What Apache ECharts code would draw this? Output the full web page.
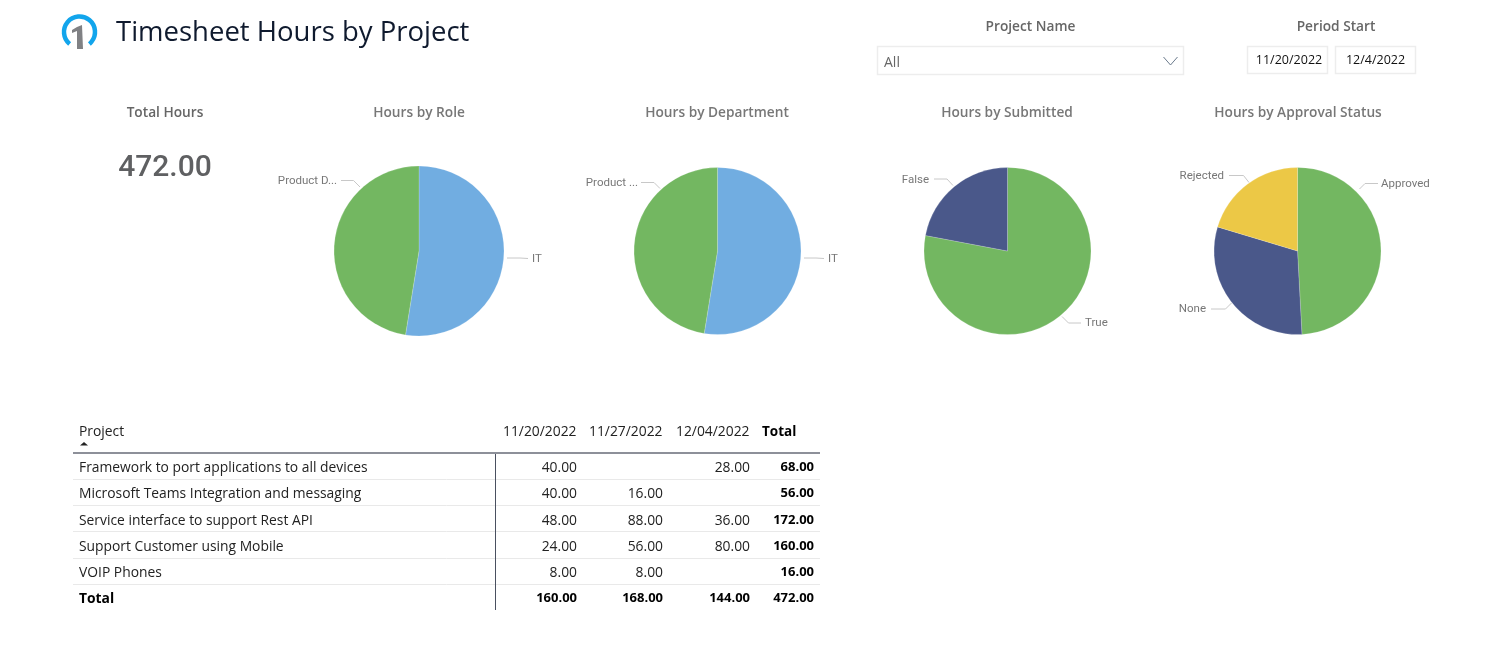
<!DOCTYPE html>
<html>
<head>
<meta charset="utf-8">
<title>Timesheet Hours by Project</title>
<script src="https://cdn.jsdelivr.net/npm/echarts@6/dist/echarts.min.js"></script>
<style>
html, body { margin: 0; padding: 0; background: #fff; }
#main { width: 1492px; height: 655px; }
</style>
</head>
<body>
<div id="main"></div>
<script>
// pie data
var roleNames = ['IT', 'Product D...'];
var roleHours = [248, 224];
var deptNames = ['IT', 'Product ...'];
var deptHours = [248, 224];
var submittedNames = ['True', 'False'];
var submittedHours = [368, 104];
var approvalNames = ['Approved', 'None', 'Rejected'];
var approvalHours = [232, 144, 96];

// table data
var weekLabels = ['11/20/2022', '11/27/2022', '12/04/2022'];
var projects = [
    'Framework to port applications to all devices',
    'Microsoft Teams Integration and messaging',
    'Service interface to support Rest API',
    'Support Customer using Mobile',
    'VOIP Phones'
];
var week1Hours = [40, 40, 48, 24, 8];
var week2Hours = [null, 16, 88, 56, 8];
var week3Hours = [28, null, 36, 80, null];
var projectTotals = [68, 56, 172, 160, 16];
var weekTotals = [160, 168, 144];
var grandTotal = 472;

var UI_FONT = '"Open Sans", "Noto Sans", sans-serif';
var LABEL_FONT = 'Roboto, sans-serif';
var BLUE = '#71ADE1', GREEN = '#73B761', NAVY = '#4A588A', YELLOW = '#ECC846';

// where Power BI put the outside labels: text anchor + leader line
var labelSpots = [
    [
        {x: 532, y: 259, align: 'left', line: [[507, 258], [520, 258], [528, 258.5]]},
        {x: 337, y: 181.5, align: 'right', line: [[360, 187], [353.5, 180.5], [341, 180.5]]}
    ],
    [
        {x: 828, y: 259, align: 'left', line: [[804, 258], [816, 258], [824, 258.5]]},
        {x: 638, y: 183, align: 'right', line: [[660, 188.5], [654, 182.5], [641, 182.5]]}
    ],
    [
        {x: 1085, y: 323, align: 'left', line: [[1062, 316.5], [1068.5, 323], [1081, 323]]},
        {x: 929, y: 180, align: 'right', line: [[953, 185.5], [947, 179], [934, 179]]}
    ],
    [
        {x: 1381, y: 184, align: 'left', line: [[1359.5, 189], [1365, 183.5], [1378, 183.5]]},
        {x: 1206, y: 309, align: 'right', line: [[1231.5, 303], [1225.5, 309], [1211, 309]]},
        {x: 1224, y: 176, align: 'right', line: [[1249, 182.5], [1243.5, 175.5], [1229, 175.5]]}
    ]
];

function pieData(names, values, colors) {
    return names.map(function(name, i) {
        return {name: name, value: values[i], itemStyle: {color: colors[i]}};
    });
}

function pieSeries(index, names, values, colors, cx, r) {
    return {
        type: 'pie',
        silent: true,
        center: [cx, 251],
        radius: [0, r],
        startAngle: 90,
        clockwise: true,
        minShowLabelAngle: 0,
        avoidLabelOverlap: false,
        data: pieData(names, values, colors),
        itemStyle: {borderColor: 'rgba(255,255,255,0.35)', borderWidth: 0.5},
        label: {show: true, position: 'outside', fontFamily: LABEL_FONT, fontSize: 11.5, color: '#777777'},
        labelLine: {show: true, lineStyle: {color: '#c8c8c8', width: 1}},
        labelLayout: function(params) {
            var spot = labelSpots[index][params.dataIndex];
            return {
                x: spot.x,
                y: spot.y,
                align: spot.align,
                verticalAlign: 'middle',
                labelLinePoints: spot.line
            };
        }
    };
}

function txt(str, x, y, size, color, align, weight, family) {
    return {
        type: 'text',
        silent: true,
        style: {
            text: str,
            x: x,
            y: y + 1,
            fill: color,
            align: align || 'left',
            verticalAlign: 'middle',
            fontSize: size,
            fontWeight: weight || 'normal',
            fontFamily: family || UI_FONT
        }
    };
}

function hline(x1, x2, y, color, width) {
    return {
        type: 'line',
        silent: true,
        shape: {x1: x1, y1: y, x2: x2, y2: y},
        style: {stroke: color, lineWidth: width}
    };
}

function box(x, y, w, h) {
    return {
        type: 'rect',
        silent: true,
        shape: {x: x, y: y, width: w, height: h},
        style: {fill: '#fff', stroke: '#ededed', lineWidth: 1.5}
    };
}

function fmt(v) {
    return v === null ? '' : v.toFixed(2);
}

function buildHeader() {
    var g = [];
    // logo
    g.push({
        type: 'arc',
        silent: true,
        shape: {cx: 79.5, cy: 32, r: 15.5, startAngle: Math.PI * 0.72, endAngle: Math.PI * 0.28, clockwise: true},
        style: {stroke: '#12A5EC', lineWidth: 4.5, fill: 'none'}
    });
    g.push({
        type: 'polygon',
        silent: true,
        shape: {points: [[77, 27], [82, 25], [83, 49], [77, 49], [77, 31], [72, 33], [72, 30]]},
        style: {fill: '#808184'}
    });
    g.push(txt('Timesheet Hours by Project', 116, 32.5, 27.5, '#0f1a2e', 'left', 'normal'));

    // slicers
    g.push(txt('Project Name', 1030.5, 26, 13.7, '#666666', 'center', 600));
    g.push(box(877.5, 46.5, 306, 28));
    g.push(txt('All', 884, 62.5, 14, '#666666'));
    g.push({
        type: 'polyline',
        silent: true,
        shape: {points: [[1163.5, 57], [1170.5, 65], [1177.5, 57]]},
        style: {stroke: '#6a7a8c', lineWidth: 1, fill: 'none'}
    });
    g.push(txt('Period Start', 1336, 26, 13.7, '#666666', 'center', 600));
    g.push(box(1247.5, 46.5, 80, 27));
    g.push(box(1335.5, 46.5, 80, 27));
    g.push(txt('11/20/2022', 1289, 59.5, 12.5, '#111111', 'center'));
    g.push(txt('12/4/2022', 1375.5, 59.5, 12.5, '#111111', 'center'));

    // visual titles + card
    g.push(txt('Total Hours', 165, 112, 13.7, '#666666', 'center', 600));
    g.push(txt('Hours by Role', 419, 112, 13.7, '#777777', 'center', 600));
    g.push(txt('Hours by Department', 717, 112, 13.7, '#777777', 'center', 600));
    g.push(txt('Hours by Submitted', 1007, 112, 13.7, '#777777', 'center', 600));
    g.push(txt('Hours by Approval Status', 1298, 112, 13.7, '#777777', 'center', 600));
    g.push(txt(grandTotal.toFixed(2), 165, 167, 30, '#5f6062', 'center', 500, LABEL_FONT));
    return g;
}

function buildTable() {
    var g = [];
    var colRight = [577, 663, 750];
    var totalRight = 814;
    var rowY = [467, 493.5, 520, 546, 572.5];
    var totalRowY = 598.5;
    var rowLines = [479.5, 505.5, 531.5, 558.5, 584.5];
    var size = 13.85;

    rowLines.forEach(function(y) {
        g.push(hline(73, 820, y, '#e9e9e9', 1));
    });
    g.push(hline(73, 820, 453, '#8d9099', 2));
    g.push({
        type: 'line',
        silent: true,
        shape: {x1: 495.5, y1: 454, x2: 495.5, y2: 610},
        style: {stroke: '#4a5060', lineWidth: 1}
    });

    g.push(txt('Project', 79, 431.5, size, '#222222'));
    g.push({
        type: 'polygon',
        silent: true,
        shape: {points: [[80, 445.5], [84, 442], [88, 445.5]]},
        style: {fill: '#222222'}
    });
    weekLabels.forEach(function(label, c) {
        g.push(txt(label, colRight[c] - 0.5, 431.5, size, '#222222', 'right'));
    });
    g.push(txt('Total', 762, 431.5, 13.5, '#000000', 'left', 700));

    var weekCols = [week1Hours, week2Hours, week3Hours];
    projects.forEach(function(name, r) {
        g.push(txt(name, 79, rowY[r], size, '#222222'));
        weekCols.forEach(function(col, c) {
            if (col[r] !== null) {
                g.push(txt(fmt(col[r]), colRight[c], rowY[r], size, '#222222', 'right'));
            }
        });
        g.push(txt(fmt(projectTotals[r]), totalRight, rowY[r] - 1, 13, '#000000', 'right', 700));
    });

    g.push(txt('Total', 79, totalRowY, size, '#000000', 'left', 700));
    weekTotals.forEach(function(v, c) {
        g.push(txt(fmt(v), colRight[c], totalRowY - 1, 13, '#000000', 'right', 700));
    });
    g.push(txt(fmt(grandTotal), totalRight, totalRowY - 1, 13, '#000000', 'right', 700));
    return g;
}

var myChart = echarts.init(document.getElementById('main'));
var option = {
    animation: false,
    backgroundColor: '#ffffff',
    series: [
        pieSeries(0, roleNames, roleHours, [BLUE, GREEN], 419, 85),
        pieSeries(1, deptNames, deptHours, [BLUE, GREEN], 717.5, 83.5),
        pieSeries(2, submittedNames, submittedHours, [GREEN, NAVY], 1007.5, 83.5),
        pieSeries(3, approvalNames, approvalHours, [GREEN, NAVY, YELLOW], 1297.5, 83.5)
    ],
    graphic: {elements: buildHeader().concat(buildTable())}
};
myChart.setOption(option);
</script>
</body>
</html>
